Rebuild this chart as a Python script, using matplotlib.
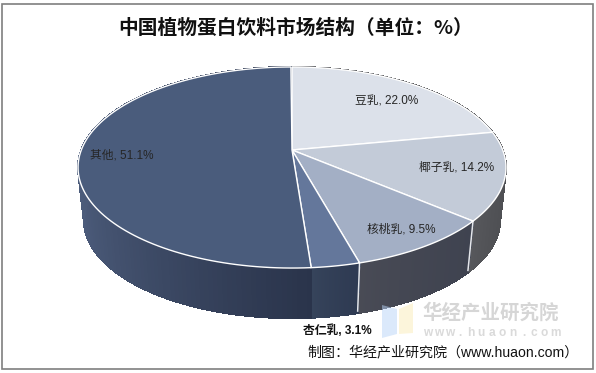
import numpy as np
import matplotlib
matplotlib.use("Agg")
import matplotlib.pyplot as plt
from matplotlib.collections import PolyCollection
from matplotlib.colors import to_rgb
from matplotlib.patches import Polygon, Rectangle

title = "中国植物蛋白饮料市场结构（单位：%）"
source = "制图：华经产业研究院（www.huaon.com）"
categories = ["豆乳", "椰子乳", "核桃乳", "杏仁乳", "其他"]
values = [22.0, 14.2, 9.5, 3.1, 51.1]

top_colors = ["#dce1ea", "#c3cbd8", "#a3afc5", "#64779b", "#4a5c7c"]
wall_left = ["#55565a", "#5a5b5f", "#4a4c56", "#37455c", "#4c5c7b"]
wall_right = ["#4e4f53", "#4e4f53", "#3f4350", "#2e3a52", "#2a344b"]
label_xy = [(387, 101), (457, 167), (401, 229), (337, 331), (122, 156)]

LATIN_CJK = ["Liberation Sans", "Noto Sans CJK SC"]

# perspective projection of the pie disc, in pixels
P = 0.174


def top_rim(t):
    d = 1 + P * np.cos(t)
    return 292 + 210.7 * np.sin(t) / d, 150 - 97.5 * np.cos(t) / d


def bottom_rim(t):
    d = 1 + P * np.cos(t)
    return 292 + 204.8 * np.sin(t) / d, 203.3 - 94.8 * np.cos(t) / d


fig = plt.figure(figsize=(5.96, 3.73), dpi=100)
ax = fig.add_axes([0, 0, 1, 1])

edges = np.cumsum([0] + values) / 100 * 2 * np.pi

# side walls first, swept as thin quads so the silhouette stays straight at the sides
for i in range(len(values)):
    t = np.linspace(edges[i], edges[i + 1], 160)
    x1, y1 = top_rim(t)
    x2, y2 = bottom_rim(t)
    quads = []
    cols = []
    c0 = np.array(to_rgb(wall_left[i]))
    c1 = np.array(to_rgb(wall_right[i]))
    lo, hi = min(x1.min(), x2.min()), max(x1.max(), x2.max())
    for k in range(len(t) - 1):
        quads.append([(x1[k], y1[k]), (x1[k + 1], y1[k + 1]),
                      (x2[k + 1], y2[k + 1]), (x2[k], y2[k])])
        f = ((x1[k] - lo) / (hi - lo)) ** 0.7
        cols.append(c0 + (c1 - c0) * f)
    ax.add_collection(PolyCollection(quads, facecolors=cols, edgecolors=cols,
                                     linewidths=0.8, antialiaseds=False, zorder=1))

# pale dividers on the front wall
for e in edges[1:4]:
    x1, y1 = top_rim(e)
    x2, y2 = bottom_rim(e)
    ax.plot([x1, x2], [y1, y2 - 2], color="#e4e6ea", lw=1.1, zorder=2)

# top face
for i in range(len(values)):
    t = np.linspace(edges[i], edges[i + 1], 120)
    x1, y1 = top_rim(t)
    pts = np.vstack([[292, 150], np.column_stack([x1, y1])])
    ax.add_patch(Polygon(pts, closed=True, facecolor=top_colors[i],
                         edgecolor="white", lw=1, zorder=3))

for i, name in enumerate(categories):
    weight = "bold" if name == "杏仁乳" else "normal"
    color = "#111111" if name == "杏仁乳" else "#262626"
    ax.text(label_xy[i][0], label_xy[i][1], f"{name}, {values[i]:.1f}%",
            ha="center", va="center", fontsize=8.5, color=color,
            family=LATIN_CJK, weight=weight, zorder=6)

ax.text(295.5, 28, title, ha="center", va="center", fontsize=14.2,
        weight="bold", family=["Noto Sans CJK SC"], color="#111111", zorder=6)
ax.text(443, 352, source, ha="center", va="center", fontsize=10.1,
        family=LATIN_CJK, color="#111111", zorder=6)

# watermark
ax.add_patch(Polygon([(382, 305), (397, 309), (397, 334), (382, 338)],
                     facecolor="#b8d4f8", alpha=0.5, edgecolor="none", zorder=4))
ax.add_patch(Polygon([(399, 309), (413, 303), (413, 333), (399, 334)],
                     facecolor="#fbedb9", alpha=0.5, edgecolor="none", zorder=4))
ax.text(491, 313, "华经产业研究院", ha="center", va="center", fontsize=14,
        family=["Noto Sans CJK SC"], weight="bold", color="#d6d6d6", zorder=4)
for i, ch in enumerate("www.huaon.com"):
    ax.text(428 + i * 10.6, 333, ch, ha="center", va="center", fontsize=8.6,
            family=["Liberation Sans"], weight="bold", color="#dadada", zorder=4)

ax.add_patch(Rectangle((2, 4), 590.5, 365, facecolor="none",
                       edgecolor="#7f7f7f", lw=1.2, zorder=7))

ax.set_xlim(0, 596)
ax.set_ylim(373, 0)
ax.axis("off")
fig.savefig("out.png", dpi=100)
